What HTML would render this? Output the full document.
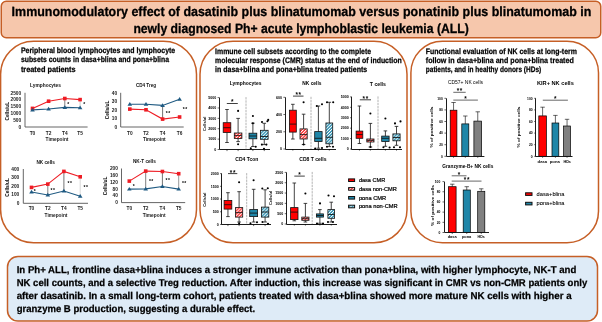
<!DOCTYPE html>
<html><head><meta charset="utf-8"><style>
html,body{margin:0;padding:0;background:#fff;width:602px;height:322px;overflow:hidden}
svg{display:block;font-family:"Liberation Sans",sans-serif;will-change:transform}
</style></head><body>
<svg width="602" height="322" viewBox="0 0 602 322">
<rect x="1.25" y="1.25" width="599.5" height="36.5" rx="5" fill="#f6c7ac" stroke="#c65f26" stroke-width="1.5"/>
<rect x="0.6" y="41.3" width="195.9" height="201.5" rx="33" fill="#fff" stroke="#c65f26" stroke-width="1.5"/>
<rect x="200.0" y="41.3" width="207.0" height="201.5" rx="33" fill="#fff" stroke="#c65f26" stroke-width="1.5"/>
<rect x="410.9" y="41.3" width="187.6" height="201.5" rx="31.5" fill="#fff" stroke="#c65f26" stroke-width="1.5"/>
<rect x="7.5" y="256.5" width="590" height="64.5" rx="10.5" fill="#deebf7" stroke="#c65f26" stroke-width="1.5"/>
<text x="11.6" y="15.8" font-size="13.4" font-weight="bold" text-anchor="start" fill="#000" textLength="579.8" lengthAdjust="spacingAndGlyphs" stroke="#000" stroke-width="0.3" text-rendering="geometricPrecision">Immunomodulatory effect of dasatinib plus blinatumomab versus ponatinib plus blinatumomab in</text>
<text x="133.4" y="32.6" font-size="13.4" font-weight="bold" text-anchor="start" fill="#000" textLength="335.3" lengthAdjust="spacingAndGlyphs" stroke="#000" stroke-width="0.3" text-rendering="geometricPrecision">newly diagnosed Ph+ acute lymphoblastic leukemia (ALL)</text>
<text x="20.9" y="53.0" font-size="8.0" font-weight="bold" text-anchor="start" fill="#000" textLength="154.3" lengthAdjust="spacingAndGlyphs" stroke="#000" stroke-width="0.25" text-rendering="geometricPrecision">Peripheral blood lymphocytes and lymphocyte</text>
<text x="20.9" y="62.3" font-size="8.0" font-weight="bold" text-anchor="start" fill="#000" textLength="148.1" lengthAdjust="spacingAndGlyphs" stroke="#000" stroke-width="0.25" text-rendering="geometricPrecision">subsets counts in dasa+blina and pona+blina</text>
<text x="20.9" y="71.5" font-size="8.0" font-weight="bold" text-anchor="start" fill="#000" textLength="54.7" lengthAdjust="spacingAndGlyphs" stroke="#000" stroke-width="0.25" text-rendering="geometricPrecision">treated patients</text>
<text x="215.1" y="53.9" font-size="8.0" font-weight="bold" text-anchor="start" fill="#000" textLength="156.0" lengthAdjust="spacingAndGlyphs" stroke="#000" stroke-width="0.25" text-rendering="geometricPrecision">Immune cell subsets according to the complete</text>
<text x="215.1" y="62.9" font-size="8.0" font-weight="bold" text-anchor="start" fill="#000" textLength="186.6" lengthAdjust="spacingAndGlyphs" stroke="#000" stroke-width="0.25" text-rendering="geometricPrecision">molecular response (CMR) status at the end of induction</text>
<text x="215.1" y="71.9" font-size="8.0" font-weight="bold" text-anchor="start" fill="#000" textLength="152.1" lengthAdjust="spacingAndGlyphs" stroke="#000" stroke-width="0.25" text-rendering="geometricPrecision">in dasa+blina and pona+blina treated patients</text>
<text x="425.8" y="53.9" font-size="8.0" font-weight="bold" text-anchor="start" fill="#000" textLength="151.1" lengthAdjust="spacingAndGlyphs" stroke="#000" stroke-width="0.25" text-rendering="geometricPrecision">Functional evaluation of NK cells at long-term</text>
<text x="425.8" y="62.9" font-size="8.0" font-weight="bold" text-anchor="start" fill="#000" textLength="148.0" lengthAdjust="spacingAndGlyphs" stroke="#000" stroke-width="0.25" text-rendering="geometricPrecision">follow in dasa+blina and pona+blina treated</text>
<text x="425.8" y="71.9" font-size="8.0" font-weight="bold" text-anchor="start" fill="#000" textLength="115.4" lengthAdjust="spacingAndGlyphs" stroke="#000" stroke-width="0.25" text-rendering="geometricPrecision">patients, and in healthy donors (HDs)</text>
<text x="16.7" y="273.3" font-size="9.9" font-weight="bold" text-anchor="start" fill="#000" textLength="559.6" lengthAdjust="spacingAndGlyphs" stroke="#000" stroke-width="0.25" text-rendering="geometricPrecision">In Ph+ ALL, frontline dasa+blina induces a stronger immune activation than pona+blina, with higher lymphocyte, NK-T and</text>
<text x="16.7" y="286.0" font-size="9.9" font-weight="bold" text-anchor="start" fill="#000" textLength="570.5" lengthAdjust="spacingAndGlyphs" stroke="#000" stroke-width="0.25" text-rendering="geometricPrecision">NK cell counts, and a selective Treg reduction. After induction, this increase was significant in CMR vs non-CMR patients only</text>
<text x="16.7" y="298.8" font-size="9.9" font-weight="bold" text-anchor="start" fill="#000" textLength="554.9" lengthAdjust="spacingAndGlyphs" stroke="#000" stroke-width="0.25" text-rendering="geometricPrecision">after dasatinib. In a small long-term cohort, patients treated with dasa+blina showed more mature NK cells with higher a</text>
<text x="16.7" y="311.6" font-size="9.9" font-weight="bold" text-anchor="start" fill="#000" textLength="238.5" lengthAdjust="spacingAndGlyphs" stroke="#000" stroke-width="0.25" text-rendering="geometricPrecision">granzyme B production, suggesting a durable effect.</text>
<text x="21.2" y="128.7" font-size="4.8" font-weight="bold" text-anchor="end" fill="#222">0</text>
<text x="21.2" y="121.86" font-size="4.8" font-weight="bold" text-anchor="end" fill="#222">500</text>
<text x="21.2" y="115.02" font-size="4.8" font-weight="bold" text-anchor="end" fill="#222">1000</text>
<text x="21.2" y="108.18" font-size="4.8" font-weight="bold" text-anchor="end" fill="#222">1500</text>
<text x="21.2" y="101.34" font-size="4.8" font-weight="bold" text-anchor="end" fill="#222">2000</text>
<text x="21.2" y="94.5" font-size="4.8" font-weight="bold" text-anchor="end" fill="#222">2500</text>
<path d="M25.0 92.8 V127.0 H87.6" fill="none" stroke="#555" stroke-width="0.9"/>
<text x="32.5" y="135.0" font-size="4.8" font-weight="bold" text-anchor="middle" fill="#222">T0</text>
<text x="48.6" y="135.0" font-size="4.8" font-weight="bold" text-anchor="middle" fill="#222">T2</text>
<text x="64.8" y="135.0" font-size="4.8" font-weight="bold" text-anchor="middle" fill="#222">T4</text>
<text x="80.1" y="135.0" font-size="4.8" font-weight="bold" text-anchor="middle" fill="#222">T5</text>
<text x="57" y="141.0" font-size="4.8" font-weight="bold" text-anchor="middle" fill="#222">Timepoint</text>
<text x="45.5" y="86.8" font-size="4.8" font-weight="bold" text-anchor="middle" fill="#111" textLength="31" lengthAdjust="spacingAndGlyphs">Lymphocytes</text>
<text x="0" y="0" font-size="4.8" font-weight="bold" text-anchor="middle" transform="translate(8.6,111.2) rotate(-90)">Cells/uL</text>
<line x1="64.8" y1="98.5" x2="64.8" y2="107.4" stroke="#555" stroke-width="0.75"/>
<line x1="80.1" y1="99.6" x2="80.1" y2="107.8" stroke="#bbb" stroke-width="0.75"/>
<polyline points="32.5,108.4 48.6,101.2 64.8,98.5 80.1,99.6" fill="none" stroke="#ee1c24" stroke-width="1.1"/>
<polyline points="32.5,109.9 48.6,109.0 64.8,107.4 80.1,107.8" fill="none" stroke="#1f5a82" stroke-width="1.1"/>
<rect x="30.7" y="106.60000000000001" width="3.6" height="3.6" fill="#ee1c24"/>
<rect x="46.800000000000004" y="99.4" width="3.6" height="3.6" fill="#ee1c24"/>
<rect x="63.0" y="96.7" width="3.6" height="3.6" fill="#ee1c24"/>
<rect x="78.3" y="97.8" width="3.6" height="3.6" fill="#ee1c24"/>
<path d="M30.2 111.4 L32.5 107.7 L34.8 111.4Z" fill="#1f5a82"/>
<path d="M46.300000000000004 110.5 L48.6 106.8 L50.9 110.5Z" fill="#1f5a82"/>
<path d="M62.5 108.9 L64.8 105.2 L67.1 108.9Z" fill="#1f5a82"/>
<path d="M77.8 109.3 L80.1 105.6 L82.39999999999999 109.3Z" fill="#1f5a82"/>
<text x="68.3" y="105.8" font-size="5.0" font-weight="bold" text-anchor="middle" fill="#000">*</text>
<text x="84.2" y="105.8" font-size="5.0" font-weight="bold" text-anchor="middle" fill="#000">*</text>
<text x="117.2" y="128.7" font-size="4.8" font-weight="bold" text-anchor="end" fill="#222">0</text>
<text x="117.2" y="120.15" font-size="4.8" font-weight="bold" text-anchor="end" fill="#222">10</text>
<text x="117.2" y="111.6" font-size="4.8" font-weight="bold" text-anchor="end" fill="#222">20</text>
<text x="117.2" y="103.05" font-size="4.8" font-weight="bold" text-anchor="end" fill="#222">30</text>
<text x="117.2" y="94.5" font-size="4.8" font-weight="bold" text-anchor="end" fill="#222">40</text>
<path d="M120.7 92.8 V127.0 H183.7" fill="none" stroke="#555" stroke-width="0.9"/>
<text x="129.8" y="135.0" font-size="4.8" font-weight="bold" text-anchor="middle" fill="#222">T0</text>
<text x="146.0" y="135.0" font-size="4.8" font-weight="bold" text-anchor="middle" fill="#222">T2</text>
<text x="162.6" y="135.0" font-size="4.8" font-weight="bold" text-anchor="middle" fill="#222">T4</text>
<text x="179.6" y="135.0" font-size="4.8" font-weight="bold" text-anchor="middle" fill="#222">T6</text>
<text x="154.3" y="141.0" font-size="4.8" font-weight="bold" text-anchor="middle" fill="#222">Timepoint</text>
<text x="146" y="86.8" font-size="4.8" font-weight="bold" text-anchor="middle" fill="#111" textLength="20.2" lengthAdjust="spacingAndGlyphs">CD4 Treg</text>
<text x="0" y="0" font-size="4.8" font-weight="bold" text-anchor="middle" transform="translate(108.8,110.0) rotate(-90)">Cells/uL</text>
<line x1="162.6" y1="119.1" x2="162.6" y2="105.4" stroke="#444" stroke-width="0.75"/>
<polyline points="129.8,109.1 146.0,109.8 162.6,119.1 179.6,117.0" fill="none" stroke="#ee1c24" stroke-width="1.1"/>
<polyline points="129.8,104.3 146.0,104.3 162.6,105.4 179.6,99.3" fill="none" stroke="#1f5a82" stroke-width="1.1"/>
<rect x="128.0" y="107.3" width="3.6" height="3.6" fill="#ee1c24"/>
<rect x="144.2" y="108.0" width="3.6" height="3.6" fill="#ee1c24"/>
<rect x="160.79999999999998" y="117.3" width="3.6" height="3.6" fill="#ee1c24"/>
<rect x="177.79999999999998" y="115.2" width="3.6" height="3.6" fill="#ee1c24"/>
<path d="M127.50000000000001 105.8 L129.8 102.1 L132.10000000000002 105.8Z" fill="#1f5a82"/>
<path d="M143.7 105.8 L146.0 102.1 L148.3 105.8Z" fill="#1f5a82"/>
<path d="M160.29999999999998 106.9 L162.6 103.2 L164.9 106.9Z" fill="#1f5a82"/>
<path d="M177.29999999999998 100.8 L179.6 97.1 L181.9 100.8Z" fill="#1f5a82"/>
<text x="166.8" y="115.0" font-size="5.0" font-weight="bold" text-anchor="middle" fill="#000">*</text>
<text x="169.2" y="115.0" font-size="5.0" font-weight="bold" text-anchor="middle" fill="#000">*</text>
<text x="183.8" y="111.3" font-size="5.0" font-weight="bold" text-anchor="middle" fill="#000">*</text>
<text x="186.2" y="111.3" font-size="5.0" font-weight="bold" text-anchor="middle" fill="#000">*</text>
<text x="19.3" y="205.0" font-size="4.8" font-weight="bold" text-anchor="end" fill="#222">0</text>
<text x="19.3" y="196.43" font-size="4.8" font-weight="bold" text-anchor="end" fill="#222">100</text>
<text x="19.3" y="187.85" font-size="4.8" font-weight="bold" text-anchor="end" fill="#222">200</text>
<text x="19.3" y="179.27" font-size="4.8" font-weight="bold" text-anchor="end" fill="#222">300</text>
<text x="19.3" y="170.7" font-size="4.8" font-weight="bold" text-anchor="end" fill="#222">400</text>
<path d="M23.3 169.0 V203.3 H88.0" fill="none" stroke="#555" stroke-width="0.9"/>
<text x="31.5" y="210.4" font-size="4.8" font-weight="bold" text-anchor="middle" fill="#222">T0</text>
<text x="47.8" y="210.4" font-size="4.8" font-weight="bold" text-anchor="middle" fill="#222">T2</text>
<text x="63.9" y="210.4" font-size="4.8" font-weight="bold" text-anchor="middle" fill="#222">T4</text>
<text x="80.2" y="210.4" font-size="4.8" font-weight="bold" text-anchor="middle" fill="#222">T5</text>
<text x="56" y="217.4" font-size="4.8" font-weight="bold" text-anchor="middle" fill="#222">Timepoint</text>
<text x="45.7" y="163.6" font-size="4.8" font-weight="bold" text-anchor="middle" fill="#111" textLength="18.5" lengthAdjust="spacingAndGlyphs">NK cells</text>
<text x="0" y="0" font-size="4.8" font-weight="bold" text-anchor="middle" transform="translate(8.6,187.4) rotate(-90)">Cells/uL</text>
<line x1="47.8" y1="184.1" x2="47.8" y2="195.0" stroke="#555" stroke-width="0.75"/>
<line x1="63.9" y1="171.4" x2="63.9" y2="191.0" stroke="#444" stroke-width="0.75"/>
<line x1="80.2" y1="176.8" x2="80.2" y2="196.3" stroke="#ccc" stroke-width="0.75"/>
<polyline points="31.5,187.4 47.8,184.1 63.9,171.4 80.2,176.8" fill="none" stroke="#ee1c24" stroke-width="1.1"/>
<polyline points="31.5,192.0 47.8,195.0 63.9,191.0 80.2,196.3" fill="none" stroke="#1f5a82" stroke-width="1.1"/>
<rect x="29.7" y="185.6" width="3.6" height="3.6" fill="#ee1c24"/>
<rect x="46.0" y="182.29999999999998" width="3.6" height="3.6" fill="#ee1c24"/>
<rect x="62.1" y="169.6" width="3.6" height="3.6" fill="#ee1c24"/>
<rect x="78.4" y="175.0" width="3.6" height="3.6" fill="#ee1c24"/>
<path d="M29.2 193.5 L31.5 189.8 L33.8 193.5Z" fill="#1f5a82"/>
<path d="M45.5 196.5 L47.8 192.8 L50.099999999999994 196.5Z" fill="#1f5a82"/>
<path d="M61.6 192.5 L63.9 188.8 L66.2 192.5Z" fill="#1f5a82"/>
<path d="M77.9 197.8 L80.2 194.10000000000002 L82.5 197.8Z" fill="#1f5a82"/>
<text x="34.8" y="192.8" font-size="5.0" font-weight="bold" text-anchor="middle" fill="#000">*</text>
<text x="51.6" y="191.7" font-size="5.0" font-weight="bold" text-anchor="middle" fill="#000">*</text>
<text x="54.0" y="191.7" font-size="5.0" font-weight="bold" text-anchor="middle" fill="#000">*</text>
<text x="68.5" y="185.4" font-size="5.0" font-weight="bold" text-anchor="middle" fill="#000">*</text>
<text x="70.9" y="185.4" font-size="5.0" font-weight="bold" text-anchor="middle" fill="#000">*</text>
<text x="84.6" y="189.1" font-size="5.0" font-weight="bold" text-anchor="middle" fill="#000">*</text>
<text x="87.0" y="189.1" font-size="5.0" font-weight="bold" text-anchor="middle" fill="#000">*</text>
<text x="117.9" y="204.3" font-size="4.8" font-weight="bold" text-anchor="end" fill="#222">0</text>
<text x="117.9" y="197.48" font-size="4.8" font-weight="bold" text-anchor="end" fill="#222">40</text>
<text x="117.9" y="190.66" font-size="4.8" font-weight="bold" text-anchor="end" fill="#222">80</text>
<text x="117.9" y="183.84" font-size="4.8" font-weight="bold" text-anchor="end" fill="#222">120</text>
<text x="117.9" y="177.02" font-size="4.8" font-weight="bold" text-anchor="end" fill="#222">160</text>
<text x="117.9" y="170.2" font-size="4.8" font-weight="bold" text-anchor="end" fill="#222">200</text>
<path d="M121.5 168.5 V202.6 H185.2" fill="none" stroke="#555" stroke-width="0.9"/>
<text x="129.3" y="210.0" font-size="4.8" font-weight="bold" text-anchor="middle" fill="#222">T0</text>
<text x="145.7" y="210.0" font-size="4.8" font-weight="bold" text-anchor="middle" fill="#222">T2</text>
<text x="162.4" y="210.0" font-size="4.8" font-weight="bold" text-anchor="middle" fill="#222">T4</text>
<text x="178.7" y="210.0" font-size="4.8" font-weight="bold" text-anchor="middle" fill="#222">T5</text>
<text x="154.1" y="216.5" font-size="4.8" font-weight="bold" text-anchor="middle" fill="#222">Timepoint</text>
<text x="144.4" y="162.6" font-size="4.8" font-weight="bold" text-anchor="middle" fill="#111" textLength="22.9" lengthAdjust="spacingAndGlyphs">NK-T cells</text>
<text x="0" y="0" font-size="4.8" font-weight="bold" text-anchor="middle" transform="translate(106.9,185.9) rotate(-90)">Cells/uL</text>
<line x1="145.7" y1="171.1" x2="145.7" y2="188.9" stroke="#555" stroke-width="0.75"/>
<line x1="162.4" y1="171.5" x2="162.4" y2="186.5" stroke="#444" stroke-width="0.75"/>
<line x1="178.7" y1="173.7" x2="178.7" y2="189.1" stroke="#777" stroke-width="0.75"/>
<polyline points="129.3,181.1 145.7,171.1 162.4,171.5 178.7,173.7" fill="none" stroke="#ee1c24" stroke-width="1.1"/>
<polyline points="129.3,189.1 145.7,188.9 162.4,186.5 178.7,189.1" fill="none" stroke="#1f5a82" stroke-width="1.1"/>
<rect x="127.50000000000001" y="179.29999999999998" width="3.6" height="3.6" fill="#ee1c24"/>
<rect x="143.89999999999998" y="169.29999999999998" width="3.6" height="3.6" fill="#ee1c24"/>
<rect x="160.6" y="169.7" width="3.6" height="3.6" fill="#ee1c24"/>
<rect x="176.89999999999998" y="171.89999999999998" width="3.6" height="3.6" fill="#ee1c24"/>
<path d="M127.00000000000001 190.6 L129.3 186.9 L131.60000000000002 190.6Z" fill="#1f5a82"/>
<path d="M143.39999999999998 190.4 L145.7 186.70000000000002 L148.0 190.4Z" fill="#1f5a82"/>
<path d="M160.1 188.0 L162.4 184.3 L164.70000000000002 188.0Z" fill="#1f5a82"/>
<path d="M176.39999999999998 190.6 L178.7 186.9 L181.0 190.6Z" fill="#1f5a82"/>
<text x="133.7" y="187.8" font-size="5.0" font-weight="bold" text-anchor="middle" fill="#000">*</text>
<text x="149.9" y="183.0" font-size="5.0" font-weight="bold" text-anchor="middle" fill="#000">*</text>
<text x="152.3" y="183.0" font-size="5.0" font-weight="bold" text-anchor="middle" fill="#000">*</text>
<text x="166.6" y="181.9" font-size="5.0" font-weight="bold" text-anchor="middle" fill="#000">*</text>
<text x="169.0" y="181.9" font-size="5.0" font-weight="bold" text-anchor="middle" fill="#000">*</text>
<text x="182.9" y="185.2" font-size="5.0" font-weight="bold" text-anchor="middle" fill="#000">*</text>
<text x="185.3" y="185.2" font-size="5.0" font-weight="bold" text-anchor="middle" fill="#000">*</text>
<defs>
<pattern id="hr" width="2.2" height="2.2" patternUnits="userSpaceOnUse" patternTransform="rotate(-45)">
<rect width="2.2" height="2.2" fill="#ff3030"/><rect width="2.2" height="0.9" fill="#fff"/></pattern>
<pattern id="hb" width="2.2" height="2.2" patternUnits="userSpaceOnUse" patternTransform="rotate(-45)">
<rect width="2.2" height="2.2" fill="#2a8fb0"/><rect width="2.2" height="0.9" fill="#fff"/></pattern>
</defs>
<text x="216.2" y="150.8" font-size="3.6" font-weight="bold" text-anchor="end" fill="#000">0</text>
<line x1="217.6" y1="149.5" x2="219.4" y2="149.5" stroke="#000" stroke-width="0.6"/>
<text x="216.2" y="140.42" font-size="3.6" font-weight="bold" text-anchor="end" fill="#000">1000</text>
<line x1="217.6" y1="139.12" x2="219.4" y2="139.12" stroke="#000" stroke-width="0.6"/>
<text x="216.2" y="130.04" font-size="3.6" font-weight="bold" text-anchor="end" fill="#000">2000</text>
<line x1="217.6" y1="128.74" x2="219.4" y2="128.74" stroke="#000" stroke-width="0.6"/>
<text x="216.2" y="119.66" font-size="3.6" font-weight="bold" text-anchor="end" fill="#000">3000</text>
<line x1="217.6" y1="118.36" x2="219.4" y2="118.36" stroke="#000" stroke-width="0.6"/>
<text x="216.2" y="109.28" font-size="3.6" font-weight="bold" text-anchor="end" fill="#000">4000</text>
<line x1="217.6" y1="107.97999999999999" x2="219.4" y2="107.97999999999999" stroke="#000" stroke-width="0.6"/>
<text x="216.2" y="98.9" font-size="3.6" font-weight="bold" text-anchor="end" fill="#000">5000</text>
<line x1="217.6" y1="97.6" x2="219.4" y2="97.6" stroke="#000" stroke-width="0.6"/>
<path d="M219.5 97.6 V149.5 H270" fill="none" stroke="#111" stroke-width="0.95"/>
<text x="245.6" y="85.0" font-size="4.9" font-weight="bold" text-anchor="middle" fill="#000" textLength="31.6" lengthAdjust="spacingAndGlyphs">Lymphocytes</text>
<text x="0" y="0" font-size="4" font-weight="bold" text-anchor="middle" transform="translate(205.5,123.8) rotate(-90)">Cells/ul</text>
<line x1="246" y1="97.1" x2="246" y2="149.5" stroke="#777" stroke-width="0.55" stroke-dasharray="2.4 0.8"/>
<line x1="227.0" y1="149.5" x2="227.0" y2="151.1" stroke="#000" stroke-width="0.6"/>
<line x1="227.0" y1="109.5" x2="227.0" y2="122.7" stroke="#222" stroke-width="0.85"/>
<line x1="227.0" y1="132.5" x2="227.0" y2="142.5" stroke="#222" stroke-width="0.85"/>
<line x1="225.2" y1="109.5" x2="228.8" y2="109.5" stroke="#222" stroke-width="0.85"/>
<line x1="225.2" y1="142.5" x2="228.8" y2="142.5" stroke="#222" stroke-width="0.85"/>
<rect x="223.2" y="122.7" width="7.6" height="9.8" fill="#ff0000" stroke="#111" stroke-width="0.8"/>
<line x1="223.2" y1="127.7" x2="230.8" y2="127.7" stroke="#111" stroke-width="0.85"/>
<line x1="238.10000000000002" y1="149.5" x2="238.10000000000002" y2="151.1" stroke="#000" stroke-width="0.6"/>
<line x1="238.10000000000002" y1="118.4" x2="238.10000000000002" y2="133.0" stroke="#222" stroke-width="0.85"/>
<line x1="238.10000000000002" y1="138.5" x2="238.10000000000002" y2="141.6" stroke="#222" stroke-width="0.85"/>
<line x1="236.3" y1="118.4" x2="239.90000000000003" y2="118.4" stroke="#222" stroke-width="0.85"/>
<line x1="236.3" y1="141.6" x2="239.90000000000003" y2="141.6" stroke="#222" stroke-width="0.85"/>
<rect x="234.3" y="133.0" width="7.6" height="5.5" fill="url(#hr)" stroke="#111" stroke-width="0.8"/>
<line x1="234.3" y1="135.6" x2="241.9" y2="135.6" stroke="#111" stroke-width="0.85"/>
<circle cx="238.1" cy="110.9" r="1.05" fill="#000"/>
<circle cx="238.1" cy="144.3" r="1.05" fill="#000"/>
<line x1="252.9" y1="149.5" x2="252.9" y2="151.1" stroke="#000" stroke-width="0.6"/>
<line x1="252.9" y1="123.2" x2="252.9" y2="133.2" stroke="#222" stroke-width="0.85"/>
<line x1="252.9" y1="138.8" x2="252.9" y2="146.5" stroke="#222" stroke-width="0.85"/>
<line x1="251.1" y1="123.2" x2="254.70000000000002" y2="123.2" stroke="#222" stroke-width="0.85"/>
<line x1="251.1" y1="146.5" x2="254.70000000000002" y2="146.5" stroke="#222" stroke-width="0.85"/>
<rect x="249.0" y="133.2" width="7.8" height="5.6" fill="#1f86a8" stroke="#111" stroke-width="0.8"/>
<line x1="249.0" y1="136.0" x2="256.8" y2="136.0" stroke="#111" stroke-width="0.85"/>
<circle cx="252.9" cy="116.0" r="1.05" fill="#000"/>
<circle cx="252.9" cy="123.2" r="1.05" fill="#000"/>
<circle cx="250.8" cy="148.3" r="1.05" fill="#000"/>
<circle cx="255.7" cy="146.8" r="1.05" fill="#000"/>
<line x1="264.25" y1="149.5" x2="264.25" y2="151.1" stroke="#000" stroke-width="0.6"/>
<line x1="264.25" y1="123.3" x2="264.25" y2="130.3" stroke="#222" stroke-width="0.85"/>
<line x1="264.25" y1="139.3" x2="264.25" y2="144.6" stroke="#222" stroke-width="0.85"/>
<line x1="262.45" y1="123.3" x2="266.05" y2="123.3" stroke="#222" stroke-width="0.85"/>
<line x1="262.45" y1="144.6" x2="266.05" y2="144.6" stroke="#222" stroke-width="0.85"/>
<rect x="260.4" y="130.3" width="7.7" height="9.0" fill="url(#hb)" stroke="#111" stroke-width="0.8"/>
<line x1="260.4" y1="136.5" x2="268.1" y2="136.5" stroke="#111" stroke-width="0.85"/>
<circle cx="262.0" cy="122.0" r="1.05" fill="#000"/>
<circle cx="267.4" cy="121.3" r="1.05" fill="#000"/>
<circle cx="268.2" cy="119.9" r="1.05" fill="#000"/>
<circle cx="261.9" cy="144.6" r="1.05" fill="#000"/>
<circle cx="266.4" cy="144.6" r="1.05" fill="#000"/>
<circle cx="264" cy="148.8" r="1.05" fill="#000"/>
<line x1="226.8" y1="103.5" x2="237.8" y2="103.5" stroke="#000" stroke-width="0.75"/>
<text x="232.3" y="104.4" font-size="6.4" font-weight="bold" text-anchor="middle" fill="#000">*</text>
<text x="282.0" y="150.3" font-size="3.6" font-weight="bold" text-anchor="end" fill="#000">0</text>
<line x1="283.4" y1="149.0" x2="285.2" y2="149.0" stroke="#000" stroke-width="0.6"/>
<text x="282.0" y="133.07" font-size="3.6" font-weight="bold" text-anchor="end" fill="#000">200</text>
<line x1="283.4" y1="131.76666666666665" x2="285.2" y2="131.76666666666665" stroke="#000" stroke-width="0.6"/>
<text x="282.0" y="115.83" font-size="3.6" font-weight="bold" text-anchor="end" fill="#000">400</text>
<line x1="283.4" y1="114.53333333333333" x2="285.2" y2="114.53333333333333" stroke="#000" stroke-width="0.6"/>
<text x="282.0" y="98.6" font-size="3.6" font-weight="bold" text-anchor="end" fill="#000">600</text>
<line x1="283.4" y1="97.29999999999998" x2="285.2" y2="97.29999999999998" stroke="#000" stroke-width="0.6"/>
<path d="M285.5 97.3 V149.5 H336" fill="none" stroke="#111" stroke-width="0.95"/>
<text x="311.9" y="85.0" font-size="4.9" font-weight="bold" text-anchor="middle" fill="#000" textLength="19.1" lengthAdjust="spacingAndGlyphs">NK cells</text>
<line x1="311" y1="96.8" x2="311" y2="149.0" stroke="#777" stroke-width="0.55" stroke-dasharray="2.4 0.8"/>
<line x1="292.85" y1="149.0" x2="292.85" y2="150.6" stroke="#000" stroke-width="0.6"/>
<line x1="292.85" y1="104.3" x2="292.85" y2="110.2" stroke="#222" stroke-width="0.85"/>
<line x1="292.85" y1="132.1" x2="292.85" y2="139.0" stroke="#222" stroke-width="0.85"/>
<line x1="291.05" y1="104.3" x2="294.65000000000003" y2="104.3" stroke="#222" stroke-width="0.85"/>
<line x1="291.05" y1="139.0" x2="294.65000000000003" y2="139.0" stroke="#222" stroke-width="0.85"/>
<rect x="289.4" y="110.2" width="6.9" height="21.9" fill="#ff0000" stroke="#111" stroke-width="0.8"/>
<line x1="289.4" y1="124.1" x2="296.3" y2="124.1" stroke="#111" stroke-width="0.85"/>
<line x1="303.6" y1="149.0" x2="303.6" y2="150.6" stroke="#000" stroke-width="0.6"/>
<line x1="303.6" y1="114.2" x2="303.6" y2="128.9" stroke="#222" stroke-width="0.85"/>
<line x1="303.6" y1="139.0" x2="303.6" y2="144.5" stroke="#222" stroke-width="0.85"/>
<line x1="301.8" y1="114.2" x2="305.40000000000003" y2="114.2" stroke="#222" stroke-width="0.85"/>
<line x1="301.8" y1="144.5" x2="305.40000000000003" y2="144.5" stroke="#222" stroke-width="0.85"/>
<rect x="300.0" y="128.9" width="7.2" height="10.1" fill="url(#hr)" stroke="#111" stroke-width="0.8"/>
<line x1="300.0" y1="134.6" x2="307.2" y2="134.6" stroke="#111" stroke-width="0.85"/>
<circle cx="303.6" cy="102.3" r="1.05" fill="#000"/>
<circle cx="303.6" cy="144.5" r="1.05" fill="#000"/>
<line x1="318.4" y1="149.0" x2="318.4" y2="150.6" stroke="#000" stroke-width="0.6"/>
<line x1="318.4" y1="106.0" x2="318.4" y2="131.6" stroke="#222" stroke-width="0.85"/>
<line x1="318.4" y1="141.5" x2="318.4" y2="148.2" stroke="#222" stroke-width="0.85"/>
<line x1="316.59999999999997" y1="106.0" x2="320.2" y2="106.0" stroke="#222" stroke-width="0.85"/>
<line x1="316.59999999999997" y1="148.2" x2="320.2" y2="148.2" stroke="#222" stroke-width="0.85"/>
<rect x="314.7" y="131.6" width="7.4" height="9.9" fill="#1f86a8" stroke="#111" stroke-width="0.8"/>
<line x1="314.7" y1="138.3" x2="322.1" y2="138.3" stroke="#111" stroke-width="0.85"/>
<circle cx="316.8" cy="106.0" r="1.05" fill="#000"/>
<circle cx="322.0" cy="104.3" r="1.05" fill="#000"/>
<circle cx="315.2" cy="148.6" r="1.05" fill="#000"/>
<circle cx="322.0" cy="148.0" r="1.05" fill="#000"/>
<line x1="329.29999999999995" y1="149.0" x2="329.29999999999995" y2="150.6" stroke="#000" stroke-width="0.6"/>
<line x1="329.29999999999995" y1="102.3" x2="329.29999999999995" y2="123.0" stroke="#222" stroke-width="0.85"/>
<line x1="329.29999999999995" y1="143.8" x2="329.29999999999995" y2="146.6" stroke="#222" stroke-width="0.85"/>
<line x1="327.49999999999994" y1="102.3" x2="331.09999999999997" y2="102.3" stroke="#222" stroke-width="0.85"/>
<line x1="327.49999999999994" y1="146.6" x2="331.09999999999997" y2="146.6" stroke="#222" stroke-width="0.85"/>
<rect x="325.9" y="123.0" width="6.8" height="20.8" fill="url(#hb)" stroke="#111" stroke-width="0.8"/>
<line x1="325.9" y1="137.3" x2="332.7" y2="137.3" stroke="#111" stroke-width="0.85"/>
<circle cx="327.0" cy="102.3" r="1.05" fill="#000"/>
<circle cx="333.2" cy="102.3" r="1.05" fill="#000"/>
<circle cx="327.0" cy="146.8" r="1.05" fill="#000"/>
<circle cx="333.0" cy="146.8" r="1.05" fill="#000"/>
<line x1="293.0" y1="96.1" x2="303.5" y2="96.1" stroke="#000" stroke-width="0.75"/>
<text x="296.65" y="97.0" font-size="6.4" font-weight="bold" text-anchor="middle" fill="#000">*</text>
<text x="299.85" y="97.0" font-size="6.4" font-weight="bold" text-anchor="middle" fill="#000">*</text>
<text x="348.7" y="150.3" font-size="3.6" font-weight="bold" text-anchor="end" fill="#000">0</text>
<line x1="350.09999999999997" y1="149.0" x2="351.9" y2="149.0" stroke="#000" stroke-width="0.6"/>
<text x="348.7" y="139.88" font-size="3.6" font-weight="bold" text-anchor="end" fill="#000">1000</text>
<line x1="350.09999999999997" y1="138.58" x2="351.9" y2="138.58" stroke="#000" stroke-width="0.6"/>
<text x="348.7" y="129.46" font-size="3.6" font-weight="bold" text-anchor="end" fill="#000">2000</text>
<line x1="350.09999999999997" y1="128.16" x2="351.9" y2="128.16" stroke="#000" stroke-width="0.6"/>
<text x="348.7" y="119.04" font-size="3.6" font-weight="bold" text-anchor="end" fill="#000">3000</text>
<line x1="350.09999999999997" y1="117.74000000000001" x2="351.9" y2="117.74000000000001" stroke="#000" stroke-width="0.6"/>
<text x="348.7" y="108.62" font-size="3.6" font-weight="bold" text-anchor="end" fill="#000">4000</text>
<line x1="350.09999999999997" y1="107.32000000000001" x2="351.9" y2="107.32000000000001" stroke="#000" stroke-width="0.6"/>
<text x="348.7" y="98.2" font-size="3.6" font-weight="bold" text-anchor="end" fill="#000">5000</text>
<line x1="350.09999999999997" y1="96.9" x2="351.9" y2="96.9" stroke="#000" stroke-width="0.6"/>
<path d="M351.5 96.9 V149.5 H402" fill="none" stroke="#111" stroke-width="0.95"/>
<text x="377.9" y="85.8" font-size="4.9" font-weight="bold" text-anchor="middle" fill="#000" textLength="16.1" lengthAdjust="spacingAndGlyphs">T cells</text>
<line x1="378" y1="96.4" x2="378" y2="149.0" stroke="#777" stroke-width="0.55" stroke-dasharray="2.4 0.8"/>
<line x1="359.45000000000005" y1="149.0" x2="359.45000000000005" y2="150.6" stroke="#000" stroke-width="0.6"/>
<line x1="359.45000000000005" y1="106.0" x2="359.45000000000005" y2="131.1" stroke="#222" stroke-width="0.85"/>
<line x1="359.45000000000005" y1="138.3" x2="359.45000000000005" y2="143.5" stroke="#222" stroke-width="0.85"/>
<line x1="357.65000000000003" y1="106.0" x2="361.25000000000006" y2="106.0" stroke="#222" stroke-width="0.85"/>
<line x1="357.65000000000003" y1="143.5" x2="361.25000000000006" y2="143.5" stroke="#222" stroke-width="0.85"/>
<rect x="356.1" y="131.1" width="6.7" height="7.2" fill="#ff0000" stroke="#111" stroke-width="0.8"/>
<line x1="356.1" y1="134.6" x2="362.8" y2="134.6" stroke="#111" stroke-width="0.85"/>
<line x1="370.4" y1="149.0" x2="370.4" y2="150.6" stroke="#000" stroke-width="0.6"/>
<line x1="370.4" y1="123.4" x2="370.4" y2="139.0" stroke="#222" stroke-width="0.85"/>
<line x1="370.4" y1="142.0" x2="370.4" y2="147.0" stroke="#222" stroke-width="0.85"/>
<line x1="368.59999999999997" y1="123.4" x2="372.2" y2="123.4" stroke="#222" stroke-width="0.85"/>
<line x1="368.59999999999997" y1="147.0" x2="372.2" y2="147.0" stroke="#222" stroke-width="0.85"/>
<rect x="366.8" y="139.0" width="7.2" height="3.0" fill="url(#hr)" stroke="#111" stroke-width="0.8"/>
<line x1="366.8" y1="140.4" x2="374.0" y2="140.4" stroke="#111" stroke-width="0.85"/>
<circle cx="370.4" cy="113.5" r="1.05" fill="#000"/>
<circle cx="370.4" cy="147.0" r="1.05" fill="#000"/>
<line x1="385.4" y1="149.0" x2="385.4" y2="150.6" stroke="#000" stroke-width="0.6"/>
<line x1="385.4" y1="130.9" x2="385.4" y2="136.1" stroke="#222" stroke-width="0.85"/>
<line x1="385.4" y1="141.5" x2="385.4" y2="146.3" stroke="#222" stroke-width="0.85"/>
<line x1="383.59999999999997" y1="130.9" x2="387.2" y2="130.9" stroke="#222" stroke-width="0.85"/>
<line x1="383.59999999999997" y1="146.3" x2="387.2" y2="146.3" stroke="#222" stroke-width="0.85"/>
<rect x="381.7" y="136.1" width="7.4" height="5.4" fill="#1f86a8" stroke="#111" stroke-width="0.8"/>
<line x1="381.7" y1="138.3" x2="389.1" y2="138.3" stroke="#111" stroke-width="0.85"/>
<circle cx="385.4" cy="118.5" r="1.05" fill="#000"/>
<circle cx="383.4" cy="147.2" r="1.05" fill="#000"/>
<circle cx="389.6" cy="147.5" r="1.05" fill="#000"/>
<line x1="396.5" y1="149.0" x2="396.5" y2="150.6" stroke="#000" stroke-width="0.6"/>
<line x1="396.5" y1="126.4" x2="396.5" y2="133.9" stroke="#222" stroke-width="0.85"/>
<line x1="396.5" y1="140.8" x2="396.5" y2="145.3" stroke="#222" stroke-width="0.85"/>
<line x1="394.7" y1="126.4" x2="398.3" y2="126.4" stroke="#222" stroke-width="0.85"/>
<line x1="394.7" y1="145.3" x2="398.3" y2="145.3" stroke="#222" stroke-width="0.85"/>
<rect x="392.9" y="133.9" width="7.2" height="6.9" fill="url(#hb)" stroke="#111" stroke-width="0.8"/>
<line x1="392.9" y1="137.5" x2="400.1" y2="137.5" stroke="#111" stroke-width="0.85"/>
<circle cx="395.0" cy="123.4" r="1.05" fill="#000"/>
<circle cx="400.5" cy="121.4" r="1.05" fill="#000"/>
<circle cx="394.0" cy="147.2" r="1.05" fill="#000"/>
<circle cx="400.0" cy="147.2" r="1.05" fill="#000"/>
<line x1="359.8" y1="99.8" x2="371.0" y2="99.8" stroke="#000" stroke-width="0.75"/>
<text x="363.8" y="100.7" font-size="6.4" font-weight="bold" text-anchor="middle" fill="#000">*</text>
<text x="367.0" y="100.7" font-size="6.4" font-weight="bold" text-anchor="middle" fill="#000">*</text>
<text x="218.7" y="225.8" font-size="3.6" font-weight="bold" text-anchor="end" fill="#000">0</text>
<line x1="220.1" y1="224.5" x2="221.9" y2="224.5" stroke="#000" stroke-width="0.6"/>
<text x="218.7" y="213.08" font-size="3.6" font-weight="bold" text-anchor="end" fill="#000">500</text>
<line x1="220.1" y1="211.775" x2="221.9" y2="211.775" stroke="#000" stroke-width="0.6"/>
<text x="218.7" y="200.35" font-size="3.6" font-weight="bold" text-anchor="end" fill="#000">1000</text>
<line x1="220.1" y1="199.05" x2="221.9" y2="199.05" stroke="#000" stroke-width="0.6"/>
<text x="218.7" y="187.62" font-size="3.6" font-weight="bold" text-anchor="end" fill="#000">1500</text>
<line x1="220.1" y1="186.325" x2="221.9" y2="186.325" stroke="#000" stroke-width="0.6"/>
<text x="218.7" y="174.9" font-size="3.6" font-weight="bold" text-anchor="end" fill="#000">2000</text>
<line x1="220.1" y1="173.6" x2="221.9" y2="173.6" stroke="#000" stroke-width="0.6"/>
<path d="M221.5 173.6 V224.5 H271" fill="none" stroke="#111" stroke-width="0.95"/>
<text x="246.9" y="160.9" font-size="4.9" font-weight="bold" text-anchor="middle" fill="#000" textLength="23.1" lengthAdjust="spacingAndGlyphs">CD4 Tcon</text>
<text x="0" y="0" font-size="4" font-weight="bold" text-anchor="middle" transform="translate(205.5,199.7) rotate(-90)">Cells/ul</text>
<line x1="246.7" y1="173.1" x2="246.7" y2="224.5" stroke="#777" stroke-width="0.55" stroke-dasharray="2.4 0.8"/>
<line x1="227.95" y1="224.5" x2="227.95" y2="226.1" stroke="#000" stroke-width="0.6"/>
<line x1="227.95" y1="192.7" x2="227.95" y2="200.4" stroke="#222" stroke-width="0.85"/>
<line x1="227.95" y1="209.1" x2="227.95" y2="216.6" stroke="#222" stroke-width="0.85"/>
<line x1="226.14999999999998" y1="192.7" x2="229.75" y2="192.7" stroke="#222" stroke-width="0.85"/>
<line x1="226.14999999999998" y1="216.6" x2="229.75" y2="216.6" stroke="#222" stroke-width="0.85"/>
<rect x="224.1" y="200.4" width="7.7" height="8.7" fill="#ff0000" stroke="#111" stroke-width="0.8"/>
<line x1="224.1" y1="204.7" x2="231.8" y2="204.7" stroke="#111" stroke-width="0.85"/>
<line x1="239.1" y1="224.5" x2="239.1" y2="226.1" stroke="#000" stroke-width="0.6"/>
<line x1="239.1" y1="191.7" x2="239.1" y2="207.6" stroke="#222" stroke-width="0.85"/>
<line x1="239.1" y1="217.1" x2="239.1" y2="222.0" stroke="#222" stroke-width="0.85"/>
<line x1="237.29999999999998" y1="191.7" x2="240.9" y2="191.7" stroke="#222" stroke-width="0.85"/>
<line x1="237.29999999999998" y1="222.0" x2="240.9" y2="222.0" stroke="#222" stroke-width="0.85"/>
<rect x="235.5" y="207.6" width="7.2" height="9.5" fill="url(#hr)" stroke="#111" stroke-width="0.8"/>
<line x1="235.5" y1="212.6" x2="242.7" y2="212.6" stroke="#111" stroke-width="0.85"/>
<circle cx="239.1" cy="182.3" r="1.05" fill="#000"/>
<circle cx="239.1" cy="223.3" r="1.05" fill="#000"/>
<line x1="253.65" y1="224.5" x2="253.65" y2="226.1" stroke="#000" stroke-width="0.6"/>
<line x1="253.65" y1="189.3" x2="253.65" y2="209.6" stroke="#222" stroke-width="0.85"/>
<line x1="253.65" y1="216.6" x2="253.65" y2="222.0" stroke="#222" stroke-width="0.85"/>
<line x1="251.85" y1="189.3" x2="255.45000000000002" y2="189.3" stroke="#222" stroke-width="0.85"/>
<line x1="251.85" y1="222.0" x2="255.45000000000002" y2="222.0" stroke="#222" stroke-width="0.85"/>
<rect x="249.7" y="209.6" width="7.9" height="7.0" fill="#1f86a8" stroke="#111" stroke-width="0.8"/>
<line x1="249.7" y1="213.1" x2="257.6" y2="213.1" stroke="#111" stroke-width="0.85"/>
<circle cx="253.6" cy="180.3" r="1.05" fill="#000"/>
<circle cx="250.5" cy="223.3" r="1.05" fill="#000"/>
<circle cx="257.0" cy="222.2" r="1.05" fill="#000"/>
<line x1="265.1" y1="224.5" x2="265.1" y2="226.1" stroke="#000" stroke-width="0.6"/>
<line x1="265.1" y1="189.8" x2="265.1" y2="207.1" stroke="#222" stroke-width="0.85"/>
<line x1="265.1" y1="217.1" x2="265.1" y2="222.0" stroke="#222" stroke-width="0.85"/>
<line x1="263.3" y1="189.8" x2="266.90000000000003" y2="189.8" stroke="#222" stroke-width="0.85"/>
<line x1="263.3" y1="222.0" x2="266.90000000000003" y2="222.0" stroke="#222" stroke-width="0.85"/>
<rect x="261.4" y="207.1" width="7.4" height="10.0" fill="url(#hb)" stroke="#111" stroke-width="0.8"/>
<line x1="261.4" y1="212.0" x2="268.8" y2="212.0" stroke="#111" stroke-width="0.85"/>
<circle cx="262.3" cy="188.5" r="1.05" fill="#000"/>
<circle cx="267.8" cy="188.3" r="1.05" fill="#000"/>
<circle cx="262.5" cy="222.0" r="1.05" fill="#000"/>
<circle cx="268.0" cy="223.8" r="1.05" fill="#000"/>
<line x1="228.0" y1="173.6" x2="237.3" y2="173.6" stroke="#000" stroke-width="0.75"/>
<text x="231.05" y="174.5" font-size="6.4" font-weight="bold" text-anchor="middle" fill="#000">*</text>
<text x="234.25" y="174.5" font-size="6.4" font-weight="bold" text-anchor="middle" fill="#000">*</text>
<text x="283.3" y="225.3" font-size="3.6" font-weight="bold" text-anchor="end" fill="#000">0</text>
<line x1="284.7" y1="224.0" x2="286.5" y2="224.0" stroke="#000" stroke-width="0.6"/>
<text x="283.3" y="214.98" font-size="3.6" font-weight="bold" text-anchor="end" fill="#000">500</text>
<line x1="284.7" y1="213.68" x2="286.5" y2="213.68" stroke="#000" stroke-width="0.6"/>
<text x="283.3" y="204.66" font-size="3.6" font-weight="bold" text-anchor="end" fill="#000">1000</text>
<line x1="284.7" y1="203.36" x2="286.5" y2="203.36" stroke="#000" stroke-width="0.6"/>
<text x="283.3" y="194.34" font-size="3.6" font-weight="bold" text-anchor="end" fill="#000">1500</text>
<line x1="284.7" y1="193.04" x2="286.5" y2="193.04" stroke="#000" stroke-width="0.6"/>
<text x="283.3" y="184.02" font-size="3.6" font-weight="bold" text-anchor="end" fill="#000">2000</text>
<line x1="284.7" y1="182.72" x2="286.5" y2="182.72" stroke="#000" stroke-width="0.6"/>
<text x="283.3" y="173.7" font-size="3.6" font-weight="bold" text-anchor="end" fill="#000">2500</text>
<line x1="284.7" y1="172.4" x2="286.5" y2="172.4" stroke="#000" stroke-width="0.6"/>
<path d="M286.5 172.4 V224.5 H337" fill="none" stroke="#111" stroke-width="0.95"/>
<text x="312.9" y="160.9" font-size="4.9" font-weight="bold" text-anchor="middle" fill="#000" textLength="27.3" lengthAdjust="spacingAndGlyphs">CD8 T cells</text>
<text x="0" y="0" font-size="4" font-weight="bold" text-anchor="middle" transform="translate(272.4,198.0) rotate(-90)">Cells/ul</text>
<line x1="312.2" y1="171.9" x2="312.2" y2="224.0" stroke="#777" stroke-width="0.55" stroke-dasharray="2.4 0.8"/>
<line x1="294.3" y1="224.0" x2="294.3" y2="225.6" stroke="#000" stroke-width="0.6"/>
<line x1="294.3" y1="183.0" x2="294.3" y2="207.6" stroke="#222" stroke-width="0.85"/>
<line x1="294.3" y1="219.6" x2="294.3" y2="220.8" stroke="#222" stroke-width="0.85"/>
<line x1="292.5" y1="183.0" x2="296.1" y2="183.0" stroke="#222" stroke-width="0.85"/>
<line x1="292.5" y1="220.8" x2="296.1" y2="220.8" stroke="#222" stroke-width="0.85"/>
<rect x="290.6" y="207.6" width="7.4" height="12.0" fill="#ff0000" stroke="#111" stroke-width="0.8"/>
<line x1="290.6" y1="212.1" x2="298.0" y2="212.1" stroke="#111" stroke-width="0.85"/>
<line x1="305.4" y1="224.0" x2="305.4" y2="225.6" stroke="#000" stroke-width="0.6"/>
<line x1="305.4" y1="203.4" x2="305.4" y2="217.1" stroke="#222" stroke-width="0.85"/>
<line x1="305.4" y1="220.3" x2="305.4" y2="222.0" stroke="#222" stroke-width="0.85"/>
<line x1="303.59999999999997" y1="203.4" x2="307.2" y2="203.4" stroke="#222" stroke-width="0.85"/>
<line x1="303.59999999999997" y1="222.0" x2="307.2" y2="222.0" stroke="#222" stroke-width="0.85"/>
<rect x="301.8" y="217.1" width="7.2" height="3.2" fill="url(#hr)" stroke="#111" stroke-width="0.8"/>
<line x1="301.8" y1="218.7" x2="309.0" y2="218.7" stroke="#111" stroke-width="0.85"/>
<circle cx="305.4" cy="193.5" r="1.05" fill="#000"/>
<line x1="319.9" y1="224.0" x2="319.9" y2="225.6" stroke="#000" stroke-width="0.6"/>
<line x1="319.9" y1="209.6" x2="319.9" y2="213.9" stroke="#222" stroke-width="0.85"/>
<line x1="319.9" y1="217.1" x2="319.9" y2="223.3" stroke="#222" stroke-width="0.85"/>
<line x1="318.09999999999997" y1="209.6" x2="321.7" y2="209.6" stroke="#222" stroke-width="0.85"/>
<line x1="318.09999999999997" y1="223.3" x2="321.7" y2="223.3" stroke="#222" stroke-width="0.85"/>
<rect x="316.4" y="213.9" width="7.0" height="3.2" fill="#1f86a8" stroke="#111" stroke-width="0.8"/>
<line x1="316.4" y1="215.5" x2="323.4" y2="215.5" stroke="#111" stroke-width="0.85"/>
<circle cx="320.0" cy="203.4" r="1.05" fill="#000"/>
<circle cx="317.0" cy="223.5" r="1.05" fill="#000"/>
<circle cx="323.0" cy="223.5" r="1.05" fill="#000"/>
<line x1="331.25" y1="224.0" x2="331.25" y2="225.6" stroke="#000" stroke-width="0.6"/>
<line x1="331.25" y1="202.2" x2="331.25" y2="209.6" stroke="#222" stroke-width="0.85"/>
<line x1="331.25" y1="218.3" x2="331.25" y2="222.0" stroke="#222" stroke-width="0.85"/>
<line x1="329.45" y1="202.2" x2="333.05" y2="202.2" stroke="#222" stroke-width="0.85"/>
<line x1="329.45" y1="222.0" x2="333.05" y2="222.0" stroke="#222" stroke-width="0.85"/>
<rect x="327.9" y="209.6" width="6.7" height="8.7" fill="url(#hb)" stroke="#111" stroke-width="0.8"/>
<line x1="327.9" y1="214.5" x2="334.6" y2="214.5" stroke="#111" stroke-width="0.85"/>
<circle cx="328.5" cy="195.5" r="1.05" fill="#000"/>
<circle cx="334.0" cy="196.2" r="1.05" fill="#000"/>
<circle cx="328.0" cy="222.0" r="1.05" fill="#000"/>
<circle cx="333.0" cy="222.0" r="1.05" fill="#000"/>
<line x1="294.3" y1="176.1" x2="304.8" y2="176.1" stroke="#000" stroke-width="0.75"/>
<text x="299.55" y="177.0" font-size="6.4" font-weight="bold" text-anchor="middle" fill="#000">*</text>
<rect x="348.6" y="178.89999999999998" width="6.0" height="2.6" fill="#ff0000" stroke="#111" stroke-width="1.0"/>
<text x="358.9" y="181.89999999999998" font-size="4.7" text-anchor="start" fill="#000" textLength="26.3" lengthAdjust="spacingAndGlyphs" stroke="#000" stroke-width="0.18">dasa CMR</text>
<rect x="348.6" y="187.6" width="6.0" height="2.6" fill="url(#hr)" stroke="#111" stroke-width="1.0"/>
<text x="358.9" y="190.6" font-size="4.7" text-anchor="start" fill="#000" textLength="38.0" lengthAdjust="spacingAndGlyphs" stroke="#000" stroke-width="0.18">dasa non-CMR</text>
<rect x="348.6" y="196.5" width="6.0" height="2.6" fill="#1f86a8" stroke="#111" stroke-width="1.0"/>
<text x="358.9" y="199.5" font-size="4.7" text-anchor="start" fill="#000" textLength="27.2" lengthAdjust="spacingAndGlyphs" stroke="#000" stroke-width="0.18">pona CMR</text>
<rect x="348.6" y="205.2" width="6.0" height="2.6" fill="url(#hb)" stroke="#111" stroke-width="1.0"/>
<text x="358.9" y="208.2" font-size="4.7" text-anchor="start" fill="#000" textLength="38.8" lengthAdjust="spacingAndGlyphs" stroke="#000" stroke-width="0.18">pona non-CMR</text>
<text x="442.8" y="157.5" font-size="3.3" font-weight="bold" text-anchor="end" fill="#000">0</text>
<line x1="444.4" y1="156.3" x2="446.0" y2="156.3" stroke="#000" stroke-width="0.6"/>
<text x="442.8" y="145.9" font-size="3.3" font-weight="bold" text-anchor="end" fill="#000">20</text>
<line x1="444.4" y1="144.70000000000002" x2="446.0" y2="144.70000000000002" stroke="#000" stroke-width="0.6"/>
<text x="442.8" y="134.3" font-size="3.3" font-weight="bold" text-anchor="end" fill="#000">40</text>
<line x1="444.4" y1="133.1" x2="446.0" y2="133.1" stroke="#000" stroke-width="0.6"/>
<text x="442.8" y="122.7" font-size="3.3" font-weight="bold" text-anchor="end" fill="#000">60</text>
<line x1="444.4" y1="121.5" x2="446.0" y2="121.5" stroke="#000" stroke-width="0.6"/>
<text x="442.8" y="111.1" font-size="3.3" font-weight="bold" text-anchor="end" fill="#000">80</text>
<line x1="444.4" y1="109.9" x2="446.0" y2="109.9" stroke="#000" stroke-width="0.6"/>
<text x="442.8" y="99.5" font-size="3.3" font-weight="bold" text-anchor="end" fill="#000">100</text>
<line x1="444.4" y1="98.3" x2="446.0" y2="98.3" stroke="#000" stroke-width="0.6"/>
<text x="465.5" y="83.8" font-size="4.8" text-anchor="middle" fill="#000" textLength="35.1" lengthAdjust="spacingAndGlyphs">CD57+ NK cells</text>
<text x="0" y="0" font-size="4.4" font-weight="bold" text-anchor="middle" transform="translate(432.9,127.0) rotate(-90)" textLength="41" lengthAdjust="spacingAndGlyphs">% of positive cells</text>
<line x1="453.54999999999995" y1="110.2" x2="453.54999999999995" y2="102.5" stroke="#000" stroke-width="0.6"/>
<line x1="451.34999999999997" y1="102.5" x2="455.74999999999994" y2="102.5" stroke="#000" stroke-width="0.6"/>
<rect x="450.2" y="110.2" width="6.7" height="46.1" fill="#ff0000" stroke="#000" stroke-width="0.7"/>
<line x1="453.54999999999995" y1="156.3" x2="453.54999999999995" y2="157.8" stroke="#000" stroke-width="0.6"/>
<line x1="465.3" y1="123.9" x2="465.3" y2="116.0" stroke="#000" stroke-width="0.6"/>
<line x1="463.1" y1="116.0" x2="467.5" y2="116.0" stroke="#000" stroke-width="0.6"/>
<rect x="461.8" y="123.9" width="7.0" height="32.4" fill="#1f86a8" stroke="#000" stroke-width="0.7"/>
<line x1="465.3" y1="156.3" x2="465.3" y2="157.8" stroke="#000" stroke-width="0.6"/>
<line x1="477.75" y1="121.1" x2="477.75" y2="111.8" stroke="#000" stroke-width="0.6"/>
<line x1="475.55" y1="111.8" x2="479.95" y2="111.8" stroke="#000" stroke-width="0.6"/>
<rect x="473.9" y="121.1" width="7.7" height="35.2" fill="#808080" stroke="#000" stroke-width="0.7"/>
<line x1="477.75" y1="156.3" x2="477.75" y2="157.8" stroke="#000" stroke-width="0.6"/>
<path d="M446.5 98.3 V156.5 H484.4" fill="none" stroke="#111" stroke-width="0.95"/>
<line x1="453.3" y1="92.3" x2="465.7" y2="92.3" stroke="#000" stroke-width="0.6"/>
<text x="457.9" y="93.2" font-size="6.4" font-weight="bold" text-anchor="middle" fill="#000">*</text>
<text x="461.1" y="93.2" font-size="6.4" font-weight="bold" text-anchor="middle" fill="#000">*</text>
<line x1="453.3" y1="100.1" x2="477.9" y2="100.1" stroke="#000" stroke-width="0.6"/>
<text x="465.6" y="101.0" font-size="6.4" font-weight="bold" text-anchor="middle" fill="#000">*</text>
<text x="532.6" y="157.5" font-size="3.3" font-weight="bold" text-anchor="end" fill="#000">0</text>
<line x1="534.1999999999999" y1="156.3" x2="535.8" y2="156.3" stroke="#000" stroke-width="0.6"/>
<text x="532.6" y="145.9" font-size="3.3" font-weight="bold" text-anchor="end" fill="#000">20</text>
<line x1="534.1999999999999" y1="144.70000000000002" x2="535.8" y2="144.70000000000002" stroke="#000" stroke-width="0.6"/>
<text x="532.6" y="134.3" font-size="3.3" font-weight="bold" text-anchor="end" fill="#000">40</text>
<line x1="534.1999999999999" y1="133.1" x2="535.8" y2="133.1" stroke="#000" stroke-width="0.6"/>
<text x="532.6" y="122.7" font-size="3.3" font-weight="bold" text-anchor="end" fill="#000">60</text>
<line x1="534.1999999999999" y1="121.5" x2="535.8" y2="121.5" stroke="#000" stroke-width="0.6"/>
<text x="532.6" y="111.1" font-size="3.3" font-weight="bold" text-anchor="end" fill="#000">80</text>
<line x1="534.1999999999999" y1="109.9" x2="535.8" y2="109.9" stroke="#000" stroke-width="0.6"/>
<text x="532.6" y="99.5" font-size="3.3" font-weight="bold" text-anchor="end" fill="#000">100</text>
<line x1="534.1999999999999" y1="98.3" x2="535.8" y2="98.3" stroke="#000" stroke-width="0.6"/>
<text x="555.4" y="85.0" font-size="4.8" font-weight="bold" text-anchor="middle" fill="#000" textLength="36.9" lengthAdjust="spacingAndGlyphs">KIR+ NK cells</text>
<text x="0" y="0" font-size="4.4" font-weight="bold" text-anchor="middle" transform="translate(519.8,127.0) rotate(-90)" textLength="41" lengthAdjust="spacingAndGlyphs">% of positive cells</text>
<line x1="542.5999999999999" y1="115.9" x2="542.5999999999999" y2="107.2" stroke="#000" stroke-width="0.6"/>
<line x1="540.3999999999999" y1="107.2" x2="544.8" y2="107.2" stroke="#000" stroke-width="0.6"/>
<rect x="538.8" y="115.9" width="7.6" height="40.4" fill="#ff0000" stroke="#000" stroke-width="0.7"/>
<line x1="542.5999999999999" y1="156.3" x2="542.5999999999999" y2="157.8" stroke="#000" stroke-width="0.6"/>
<line x1="555.4" y1="123.0" x2="555.4" y2="115.4" stroke="#000" stroke-width="0.6"/>
<line x1="553.1999999999999" y1="115.4" x2="557.6" y2="115.4" stroke="#000" stroke-width="0.6"/>
<rect x="552.0" y="123.0" width="6.8" height="33.3" fill="#1f86a8" stroke="#000" stroke-width="0.7"/>
<line x1="555.4" y1="156.3" x2="555.4" y2="157.8" stroke="#000" stroke-width="0.6"/>
<line x1="567.05" y1="126.0" x2="567.05" y2="119.3" stroke="#000" stroke-width="0.6"/>
<line x1="564.8499999999999" y1="119.3" x2="569.25" y2="119.3" stroke="#000" stroke-width="0.6"/>
<rect x="563.6" y="126.0" width="6.9" height="30.3" fill="#808080" stroke="#000" stroke-width="0.7"/>
<line x1="567.05" y1="156.3" x2="567.05" y2="157.8" stroke="#000" stroke-width="0.6"/>
<path d="M535.5 98.3 V156.5 H572.5" fill="none" stroke="#111" stroke-width="0.95"/>
<line x1="542.8" y1="100.2" x2="567.9" y2="100.2" stroke="#000" stroke-width="0.6"/>
<text x="555.35" y="101.1" font-size="6.4" font-weight="bold" text-anchor="middle" fill="#000">*</text>
<text x="542.4" y="163.3" font-size="4.0" font-weight="bold" text-anchor="middle" fill="#000" textLength="9.6" lengthAdjust="spacingAndGlyphs">dasa</text>
<text x="554.8" y="163.3" font-size="4.0" font-weight="bold" text-anchor="middle" fill="#000" textLength="10.0" lengthAdjust="spacingAndGlyphs">pona</text>
<text x="567.2" y="163.3" font-size="4.0" font-weight="bold" text-anchor="middle" fill="#000" textLength="7.6" lengthAdjust="spacingAndGlyphs">HDs</text>
<text x="440.3" y="233.7" font-size="3.3" font-weight="bold" text-anchor="end" fill="#000">0</text>
<line x1="442.5" y1="232.5" x2="444.1" y2="232.5" stroke="#000" stroke-width="0.6"/>
<text x="440.3" y="223.52" font-size="3.3" font-weight="bold" text-anchor="end" fill="#000">20</text>
<line x1="442.5" y1="222.32" x2="444.1" y2="222.32" stroke="#000" stroke-width="0.6"/>
<text x="440.3" y="213.34" font-size="3.3" font-weight="bold" text-anchor="end" fill="#000">40</text>
<line x1="442.5" y1="212.14" x2="444.1" y2="212.14" stroke="#000" stroke-width="0.6"/>
<text x="440.3" y="203.16" font-size="3.3" font-weight="bold" text-anchor="end" fill="#000">60</text>
<line x1="442.5" y1="201.96" x2="444.1" y2="201.96" stroke="#000" stroke-width="0.6"/>
<text x="440.3" y="192.98" font-size="3.3" font-weight="bold" text-anchor="end" fill="#000">80</text>
<line x1="442.5" y1="191.78" x2="444.1" y2="191.78" stroke="#000" stroke-width="0.6"/>
<text x="440.3" y="182.8" font-size="3.3" font-weight="bold" text-anchor="end" fill="#000">100</text>
<line x1="442.5" y1="181.6" x2="444.1" y2="181.6" stroke="#000" stroke-width="0.6"/>
<text x="467.8" y="168.4" font-size="4.8" font-weight="bold" text-anchor="middle" fill="#000" textLength="51" lengthAdjust="spacingAndGlyphs">Granzyme-B+ NK cells</text>
<text x="0" y="0" font-size="4.4" font-weight="bold" text-anchor="middle" transform="translate(433.6,205.5) rotate(-90)" textLength="41" lengthAdjust="spacingAndGlyphs">% of positive cells</text>
<line x1="452.25" y1="186.7" x2="452.25" y2="184.2" stroke="#000" stroke-width="0.6"/>
<line x1="450.05" y1="184.2" x2="454.45" y2="184.2" stroke="#000" stroke-width="0.6"/>
<rect x="448.4" y="186.7" width="7.7" height="45.8" fill="#ff0000" stroke="#000" stroke-width="0.7"/>
<line x1="452.25" y1="232.5" x2="452.25" y2="234.0" stroke="#000" stroke-width="0.6"/>
<line x1="466.75" y1="190.0" x2="466.75" y2="186.7" stroke="#000" stroke-width="0.6"/>
<line x1="464.55" y1="186.7" x2="468.95" y2="186.7" stroke="#000" stroke-width="0.6"/>
<rect x="463.2" y="190.0" width="7.1" height="42.5" fill="#1f86a8" stroke="#000" stroke-width="0.7"/>
<line x1="466.75" y1="232.5" x2="466.75" y2="234.0" stroke="#000" stroke-width="0.6"/>
<line x1="481.25" y1="191.3" x2="481.25" y2="188.8" stroke="#000" stroke-width="0.6"/>
<line x1="479.05" y1="188.8" x2="483.45" y2="188.8" stroke="#000" stroke-width="0.6"/>
<rect x="477.7" y="191.3" width="7.1" height="41.2" fill="#808080" stroke="#000" stroke-width="0.7"/>
<line x1="481.25" y1="232.5" x2="481.25" y2="234.0" stroke="#000" stroke-width="0.6"/>
<path d="M444.5 181.6 V232.5 H489.0" fill="none" stroke="#111" stroke-width="0.95"/>
<line x1="451.7" y1="175.8" x2="466.5" y2="175.8" stroke="#000" stroke-width="0.6"/>
<text x="459.1" y="176.7" font-size="6.4" font-weight="bold" text-anchor="middle" fill="#000">*</text>
<line x1="451.7" y1="181.1" x2="481.5" y2="181.1" stroke="#000" stroke-width="0.6"/>
<text x="465.0" y="182.0" font-size="6.4" font-weight="bold" text-anchor="middle" fill="#000">*</text>
<text x="468.2" y="182.0" font-size="6.4" font-weight="bold" text-anchor="middle" fill="#000">*</text>
<text x="452.2" y="238.0" font-size="4.0" font-weight="bold" text-anchor="middle" fill="#000" textLength="9.0" lengthAdjust="spacingAndGlyphs">dasa</text>
<text x="466.6" y="238.0" font-size="4.0" font-weight="bold" text-anchor="middle" fill="#000" textLength="9.4" lengthAdjust="spacingAndGlyphs">pona</text>
<text x="481.2" y="238.0" font-size="4.0" font-weight="bold" text-anchor="middle" fill="#000" textLength="7.2" lengthAdjust="spacingAndGlyphs">HDs</text>
<rect x="525.6" y="192.79999999999998" width="6.4" height="2.6" fill="#ff0000" stroke="#111" stroke-width="1.0"/>
<text x="536.6" y="195.9" font-size="5.0" text-anchor="start" fill="#000" textLength="27.9" lengthAdjust="spacingAndGlyphs" stroke="#000" stroke-width="0.06">dasa+blina</text>
<rect x="525.6" y="202.29999999999998" width="6.4" height="2.6" fill="#1f86a8" stroke="#111" stroke-width="1.0"/>
<text x="536.6" y="205.4" font-size="5.0" text-anchor="start" fill="#000" textLength="27.9" lengthAdjust="spacingAndGlyphs" stroke="#000" stroke-width="0.06">pona+blina</text>
</svg>
</body></html>
